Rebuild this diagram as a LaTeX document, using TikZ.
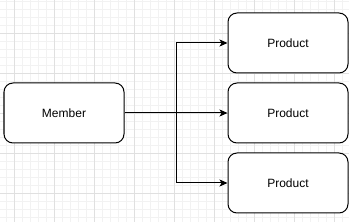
\documentclass[tikz,border=0pt]{standalone}
\usepackage{fontspec}
\setmainfont{Liberation Sans}
\usetikzlibrary{arrows.meta}

\begin{document}
\begin{tikzpicture}[
  x=1pt, y=-1pt,
  >={Stealth[length=8pt,width=7pt,inset=2pt]},
% 1. Background grid, light minor and darker major lines
  minorgrid/.style={draw=black!5, line width=0.6pt},
  majorgrid/.style={draw=black!12, line width=0.8pt},
% 2. Rounded entity boxes
  entity/.style={
    draw,
    fill=white,
    line width=1pt,
    rounded corners=9pt,
    minimum width=120pt,
    minimum height=60pt,
    inner sep=0pt,
    font=\fontsize{12pt}{14pt}\selectfont
  },
% 3. Elbow connectors
  link/.style={
    ->,
    line width=1pt
  }
]

  \useasboundingbox (0,0) rectangle (349,222);

  % Grid
  \begin{scope}
    \clip (0,0) rectangle (349,222);
    \foreach \gx in {-2,6,...,350} \draw[minorgrid] (\gx,0) -- (\gx,222);
    \foreach \gy in {1,9,...,225} \draw[minorgrid] (0,\gy) -- (349,\gy);
    \foreach \gx in {14,54,...,350} \draw[majorgrid] (\gx,0) -- (\gx,222);
    \foreach \gy in {33.3,73.3,...,225} \draw[majorgrid] (0,\gy) -- (349,\gy);
  \end{scope}

  % Nodes
  \node[entity] (member) at (64,113) {Member};
  \node[entity] (prodA) at (288,43) {Product};
  \node[entity] (prodB) at (288,113) {Product};
  \node[entity] (prodC) at (288,183) {Product};

  % Branch point
  \coordinate (split) at (176.7,113);

  % Edges
  \draw[link] (member.east) -- (prodB.west);
  \draw[link] (split) |- (prodA.west);
  \draw[link] (split) |- (prodC.west);

\end{tikzpicture}
\end{document}
